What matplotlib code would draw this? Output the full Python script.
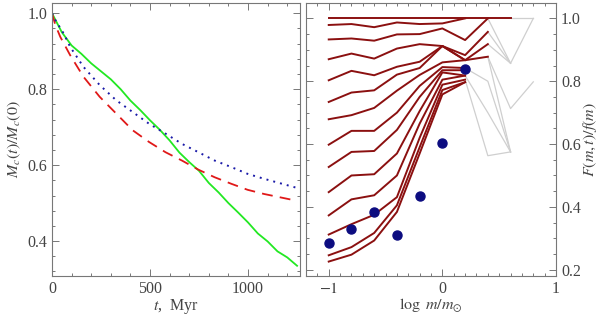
import numpy as np
import matplotlib
matplotlib.use("Agg")
import matplotlib.pyplot as plt
from matplotlib.ticker import MultipleLocator

plt.rcParams["font.family"] = ["Liberation Serif", "DejaVu Serif"]
plt.rcParams["mathtext.fontset"] = "stix"

# left panel: cluster mass vs time
t_green = [0, 50, 100, 150, 200, 250, 300, 350, 400, 450, 500, 550, 600, 650,
           700, 750, 800, 850, 900, 950, 1000, 1050, 1100, 1150, 1200, 1250]
m_green = [1.0, 0.95, 0.915, 0.893, 0.868, 0.847, 0.826, 0.800, 0.770, 0.745,
           0.718, 0.693, 0.665, 0.633, 0.608, 0.585, 0.553, 0.528, 0.500, 0.475,
           0.449, 0.420, 0.399, 0.373, 0.357, 0.335]

t_red = [0, 17, 42, 92, 160, 243, 327, 411, 495, 579, 663, 747, 830, 914,
         998, 1082, 1166, 1250]
m_red = [1.0, 0.969, 0.938, 0.890, 0.833, 0.780, 0.736, 0.692, 0.661, 0.634,
         0.612, 0.588, 0.568, 0.551, 0.535, 0.524, 0.515, 0.506]

t_blue = [0, 17, 59, 92, 160, 243, 327, 411, 495, 579, 663, 747, 830, 914,
          998, 1082, 1166, 1250]
m_blue = [1.0, 0.982, 0.947, 0.912, 0.859, 0.811, 0.771, 0.740, 0.709, 0.683,
          0.656, 0.634, 0.612, 0.595, 0.577, 0.564, 0.552, 0.540]

# right panel: F(m,t)/f(m) at log m nodes
log_m = [-1.0, -0.8, -0.6, -0.4, -0.2, 0.0, 0.2, 0.4, 0.6, 0.8]
nan = np.nan
curves = [
    [1.0, 1.0, 1.0, 1.0, 1.0, 1.0, 1.0, 1.0, 1.0, 1.0],
    [0.979, 0.982, 0.972, 0.987, 0.982, 0.984, 1.0, nan, nan, nan],
    [0.933, 0.936, 0.929, 0.949, 0.950, 0.968, 0.931, 1.0, 0.857, nan],
    [0.870, 0.888, 0.872, 0.904, 0.918, 0.912, 0.883, 0.957, 0.857, 1.0],
    [0.803, 0.833, 0.819, 0.846, 0.862, 0.912, 0.867, 0.918, 0.857, nan],
    [0.734, 0.764, 0.771, 0.821, 0.842, 0.912, 0.867, 0.878, 0.713, 0.798],
    [0.679, 0.692, 0.715, 0.770, 0.820, 0.860, 0.867, 0.878, 0.575, nan],
    [0.598, 0.642, 0.642, 0.700, 0.785, 0.845, 0.842, 0.800, 0.575, nan],
    [0.527, 0.575, 0.578, 0.645, 0.750, 0.835, 0.835, nan, nan, nan],
    [0.447, 0.500, 0.504, 0.570, 0.705, 0.828, 0.818, 0.700, 0.575, nan],
    [0.373, 0.424, 0.437, 0.500, 0.665, 0.805, 0.818, nan, nan, nan],
    [0.312, 0.345, 0.375, 0.431, 0.620, 0.789, 0.805, 0.563, 0.575, nan],
    [0.246, 0.272, 0.317, 0.405, 0.590, 0.772, 0.797, nan, nan, nan],
    [0.226, 0.248, 0.293, 0.384, 0.570, 0.758, 0.797, nan, nan, nan],
]
# number of leading nodes drawn in dark red for each curve
n_red = [9, 7, 8, 8, 8, 8, 7, 7, 7, 7, 7, 7, 7, 7]

dot_m = [-1.0, -0.8, -0.6, -0.4, -0.2, 0.0, 0.2]
dot_f = [0.284, 0.330, 0.385, 0.312, 0.434, 0.602, 0.838]

axis_gray = "#777777"
text_gray = "#444444"


def style_axes(ax):
    for s in ax.spines.values():
        s.set_color(axis_gray)
        s.set_linewidth(0.8)
    ax.tick_params(which="both", direction="in", top=True, bottom=True,
                   left=True, right=True, colors=axis_gray,
                   labelcolor=text_gray, labelsize=11.5, width=0.7)
    ax.tick_params(which="major", length=5)
    ax.tick_params(which="minor", length=2.5)


fig = plt.figure(figsize=(6, 3.18), dpi=100)

ax1 = fig.add_axes([0.0867, 0.132, 0.4133, 0.8586])
ax1.plot(t_green, m_green, color="#22e822", lw=1.3)
ax1.plot(t_red, m_red, color="#e01818", lw=1.3, dashes=(6, 4))
ax1.plot(t_blue, m_blue, color="#1a1aa8", lw=1.4, dashes=(1, 2.6))
ax1.set_xlim(0, 1265)
ax1.set_ylim(0.308, 1.027)
ax1.xaxis.set_major_locator(MultipleLocator(500))
ax1.xaxis.set_minor_locator(MultipleLocator(100))
ax1.yaxis.set_major_locator(MultipleLocator(0.2))
ax1.yaxis.set_minor_locator(MultipleLocator(0.04))
style_axes(ax1)
ax1.set_xlabel(r"$t$,  Myr", color=text_gray, fontsize=11.5, labelpad=0)
ax1.set_ylabel(r"$M_c(t)/M_c(0)$", color=text_gray, fontsize=11.5, labelpad=3)

ax2 = fig.add_axes([0.51, 0.132, 0.4167, 0.8586])
for vals, k in zip(curves, n_red):
    vals = np.array(vals)
    ax2.plot(log_m[k - 1:], vals[k - 1:], color="#cfcfcf", lw=0.9, zorder=1)
    ax2.plot(log_m[:k], vals[:k], color="#8b1010", lw=1.4, zorder=2)
ax2.plot(dot_m, dot_f, "o", color="#0c0c80", ms=6.5, zorder=3)
ax2.set_xlim(-1.2, 1.0)
ax2.set_ylim(0.18, 1.049)
ax2.xaxis.set_major_locator(MultipleLocator(1))
ax2.xaxis.set_minor_locator(MultipleLocator(0.1))
ax2.yaxis.set_major_locator(MultipleLocator(0.2))
ax2.yaxis.set_minor_locator(MultipleLocator(0.05))
style_axes(ax2)
ax2.tick_params(labelleft=False, labelright=True)
ax2.yaxis.set_label_position("right")
ax2.set_xticks([-1, 0, 1])
ax2.set_xticklabels([r"$-1$", "0", "1"])
ax2.set_xlabel(r"$\log\ m/m_{\odot}$", color=text_gray, fontsize=11.5, labelpad=0)
ax2.set_ylabel(r"$F(m,t)/f(m)$", color=text_gray, fontsize=11.5, labelpad=0)

fig.savefig("out.png", dpi=100)
plt.close(fig)
